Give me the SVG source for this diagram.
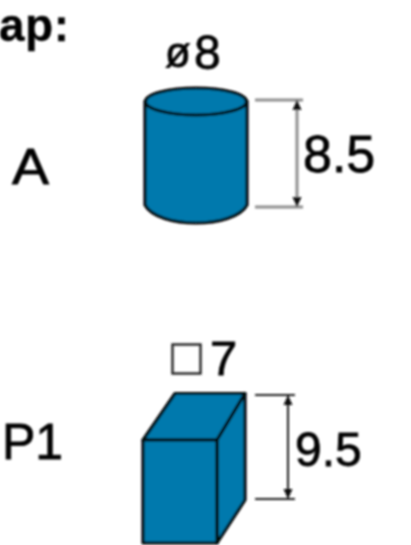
<svg xmlns="http://www.w3.org/2000/svg" width="411" height="545" viewBox="0 0 411 545">
<defs>
<filter id="soft" x="-5%" y="-5%" width="110%" height="110%"><feGaussianBlur stdDeviation="0.8"/></filter>
<marker id="ah" viewBox="0 0 10 10" refX="10" refY="5" markerWidth="11" markerHeight="10" markerUnits="userSpaceOnUse" orient="auto-start-reverse"><path d="M0,0.5 L10,5 L0,9.5 Z" fill="#111"/></marker>
</defs>
<style>
text{font-family:"Liberation Sans",Arial,sans-serif;fill:#000;stroke:#000;stroke-width:0.8}
.b{fill:#0679ad;stroke:#05090c;stroke-width:3.200;stroke-linejoin:round}
.d{stroke:#8e8e8e;stroke-width:3;fill:none}
.k{stroke:#222;stroke-width:2;fill:none}
</style>
<rect width="411" height="545" fill="#fff"/>
<g filter="url(#soft)">
<text x="-1" y="41" font-size="46" font-weight="700" textLength="70" lengthAdjust="spacing" style="stroke-width:0.3">ap:</text>
<g id="node-A">
<text x="12" y="184" font-size="50" textLength="37" lengthAdjust="spacingAndGlyphs">A</text>
<text x="165" y="67" font-size="42">ø</text>
<text x="194" y="69" font-size="48">8</text>
<path class="b" d="M145,101 V205 C158,229 234,229 247,205 V101 Z"/>
<ellipse class="b" cx="196" cy="101.500" rx="50.500" ry="13.500"/>
<text x="303" y="172" font-size="52">8.5</text>
</g>
<g id="node-P1">
<text x="2" y="459" font-size="50">P1</text>
<rect x="172.500" y="344.500" width="28" height="29" fill="none" stroke="#222" stroke-width="2.400"/>
<text x="210" y="375" font-size="49">7</text>
<path class="b" d="M143,440 L175,393.500 H245 L217,440 Z"/>
<path class="b" d="M217,440 L245,393.500 V500 L217,543 Z"/>
<path class="b" d="M143,440 H217 V543 H143 Z"/>
<text x="295" y="466" font-size="48">9.5</text>
</g>
<g id="connectors">
<path class="d" d="M255,100 H303 M255,207 H303"/>
<path class="d" d="M297,100 V207" marker-start="url(#ah)" marker-end="url(#ah)"/>
<path class="k" d="M255,395 H295 M255,499 H295"/>
<path class="k" d="M288,395 V499" marker-start="url(#ah)" marker-end="url(#ah)"/>
</g>
</g>
</svg>
